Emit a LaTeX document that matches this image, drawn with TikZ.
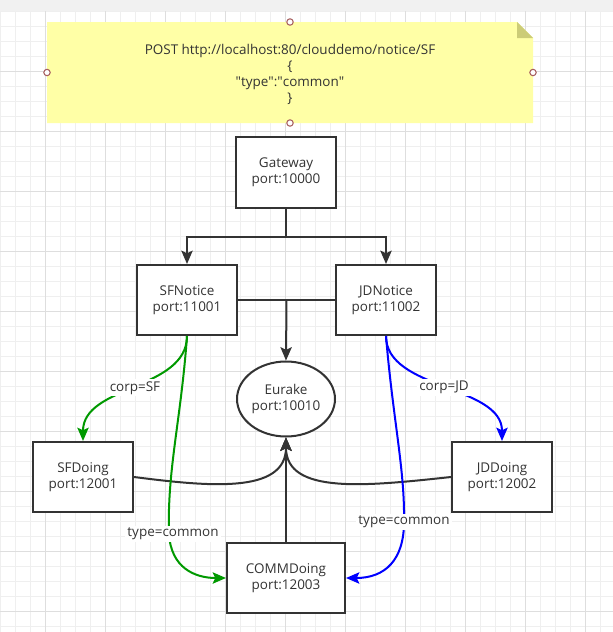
\documentclass[tikz,border=0pt]{standalone}
\usepackage{fontspec}
\setmainfont{Open Sans}
\usetikzlibrary{arrows.meta,shapes.geometric}
\definecolor{ink}{HTML}{333333}
\definecolor{notefill}{HTML}{FFFFA6}
\definecolor{notefold}{HTML}{CCCC77}
\definecolor{gridminor}{HTML}{EFEFEF}
\definecolor{gridmajor}{HTML}{DEDEDE}
\definecolor{band}{HTML}{F1F1F1}
\definecolor{sfgreen}{HTML}{009900}
\definecolor{jdblue}{HTML}{0000FF}
\definecolor{handlered}{HTML}{A65E5E}

\begin{document}
\begin{tikzpicture}[x=0.75pt,y=-0.75pt,
  font=\fontsize{10.1}{12}\selectfont,
  svc/.style={draw=ink, line width=1.5pt, fill=white, text=ink, align=center,
              minimum width=75pt, minimum height=52.5pt, inner sep=0pt},
  reg/.style={svc, ellipse, minimum width=73.5pt, minimum height=56.25pt},
  tipstyle/.style={-{Stealth[length=10pt,width=8.5pt,inset=2pt]}},
  link/.style={draw=ink, line width=1.5pt},
  arr/.style={link, tipstyle},
  sfroute/.style={draw=sfgreen, line width=1.5pt, tipstyle},
  jdroute/.style={draw=jdblue, line width=1.5pt, tipstyle},
  lbl/.style={fill=white, text=ink, inner sep=1.5pt},
  handle/.style={draw=handlered, fill=white, line width=0.8pt}
]
\useasboundingbox (0,0) rectangle (613,632);

% canvas: top band and grid
\fill[white] (0,0) rectangle (613,632);
\fill[band] (0,0) rectangle (613,11);
\foreach \k in {0,...,40} \draw[gridminor, line width=0.75pt] ({0.7+15*\k},11) -- ({0.7+15*\k},632);
\foreach \k in {0,...,41} \draw[gridminor, line width=0.75pt] (0,{11+15*\k}) -- (613,{11+15*\k});
\foreach \k in {0,...,9} \draw[gridmajor, line width=0.75pt] ({45.7+60*\k},11) -- ({45.7+60*\k},632);
\foreach \k in {0,...,9} \draw[gridmajor, line width=0.75pt] (0,{71+60*\k}) -- (613,{71+60*\k});

% request note with folded corner
\fill[notefill] (47,22) -- (517,22) -- (533,38) -- (533,123) -- (47,123) -- cycle;
\fill[notefold] (517,22) -- (533,38) -- (517,38) -- cycle;
\node[text=ink, align=center, inner sep=0pt] (req) at (290,74)
  {POST http://localhost:80/clouddemo/notice/SF\\\{\\\textquotedbl type\textquotedbl:\textquotedbl common\textquotedbl\\\}};
\foreach \p in {(290,22),(47,72.5),(533,72.5),(290,123)} \draw[handle] \p circle[radius=2.4pt];

% services
\node[svc, minimum height=53.25pt] (gw) at (286,172.5) {Gateway\\port:10000};
\node[svc] (sfn) at (187,300) {SFNotice\\port:11001};
\node[svc] (jdn) at (386,300) {JDNotice\\port:11002};
\node[reg] (eu) at (286,399) {Eurake\\port:10010};
\node[svc] (sfd) at (83,477) {SFDoing\\port:12001};
\node[svc] (jdd) at (502,477) {JDDoing\\port:12002};
\node[svc, minimum width=88.5pt] (comm) at (286,578) {COMMDoing\\port:12003};

% gateway fan-out
\draw[arr] (gw.south) -- ++(0,28) coordinate (fork) -| (sfn.north);
\draw[arr] (fork) -| (jdn.north);

% notice services register with eureka
\draw[link] (sfn.east) -- coordinate[midway] (hub) (jdn.west);
\draw[arr] (hub) -- (eu.north);

% doing services register with eureka
\draw[arr] (sfd.east) .. controls (205,486) and (286,495) .. (eu.south);
\draw[arr] (jdd.west) .. controls (367,486) and (286,495) .. (eu.south);
\draw[arr] (comm.north) -- (eu.south);

% SF routes
\draw[sfroute] (sfn.south) .. controls (187,390) and (83,385) .. (sfd.north)
  node[lbl, pos=0.5] {corp=SF};
\draw[sfroute] (sfn.south) .. controls (181,420) and (167,470) .. (169,534)
  node[lbl, xshift=3pt] {type=common}
  .. controls (171,568) and (195,578) .. (comm.west);

% JD routes
\draw[jdroute] (jdn.south) .. controls (386,390) and (502,385) .. (jdd.north)
  node[lbl, pos=0.5] {corp=JD};
\draw[jdroute] (jdn.south) .. controls (393,420) and (405,470) .. (404,522)
  node[lbl] {type=common}
  .. controls (404,560) and (385,578) .. (comm.east);
\end{tikzpicture}
\end{document}
